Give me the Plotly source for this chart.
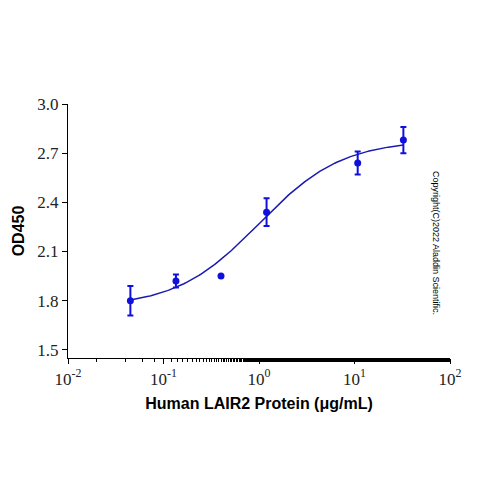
import numpy as np
import plotly.graph_objects as go

conc = [0.045, 0.135, 0.40, 1.2, 10.8, 32.5]
od = [1.80, 1.92, 1.95, 2.34, 2.64, 2.78]
err = [0.09, 0.04, 0.0, 0.085, 0.07, 0.08]
fit_params = dict(bottom=1.76, top=2.78, ec50=1.0, hill=1.0)
tickvals = [0.01, 0.1, 1, 10, 100]
ticktext = ["10<sup>-2</sup>", "10<sup>-1</sup>", "10<sup>0</sup>", "10<sup>1</sup>", "10<sup>2</sup>"]
yticks = [1.5, 1.8, 2.1, 2.4, 2.7, 3.0]

p = fit_params
xs = np.logspace(np.log10(conc[0]), np.log10(conc[-1]), 200)
ys = p["bottom"] + (p["top"] - p["bottom"]) / (1 + (p["ec50"] / xs) ** p["hill"])

blue = "#1010dd"
serif = "Times New Roman, Liberation Serif, serif"
fig = go.Figure()
fig.add_trace(go.Scatter(x=xs, y=ys, mode="lines", line=dict(color="#1a1ab0", width=1.5)))
fig.add_trace(go.Scatter(x=conc, y=od, mode="markers", marker=dict(color=blue, size=7),
                         error_y=dict(type="data", array=err, color=blue, thickness=2, width=3)))
fig.update_layout(
    width=500, height=500, showlegend=False, plot_bgcolor="white", paper_bgcolor="white",
    margin=dict(l=60, r=58, t=96, b=150, autoexpand=False),
    xaxis=dict(type="log", range=[-2, 2], tickvals=tickvals, ticktext=ticktext,
               showgrid=False, showline=True, linecolor="black", linewidth=1.2,
               ticks="outside", ticklen=5, tickcolor="black",
               minor=dict(ticks="outside", ticklen=3, tickcolor="black", showgrid=False),
               tickfont=dict(family=serif, size=17, color="#222"),
               title=dict(text="<b>Human LAIR2 Protein (μg/mL)</b>", standoff=10,
                          font=dict(family="Liberation Sans", size=16, color="black"))),
    yaxis=dict(range=[1.45, 3.0], tickvals=yticks, ticktext=["%.1f" % v for v in yticks],
               showgrid=False, showline=True, linecolor="black", linewidth=1.2,
               ticks="outside", ticklen=5, tickcolor="black", zeroline=False,
               tickfont=dict(family=serif, size=17, color="#222"),
               title=dict(text="<b>OD450</b>", standoff=8,
                          font=dict(family="Liberation Sans", size=16, color="black"))),
    annotations=[dict(text="Copyright(C)2022 Aladdin Scientific.", xref="paper", yref="paper",
                      x=(435 - 60) / 382, y=1 - (235 - 96) / 254,
                      showarrow=False, textangle=90,
                      font=dict(family="Liberation Sans", size=9, color="black"))],
)
fig.write_html("out.html")
